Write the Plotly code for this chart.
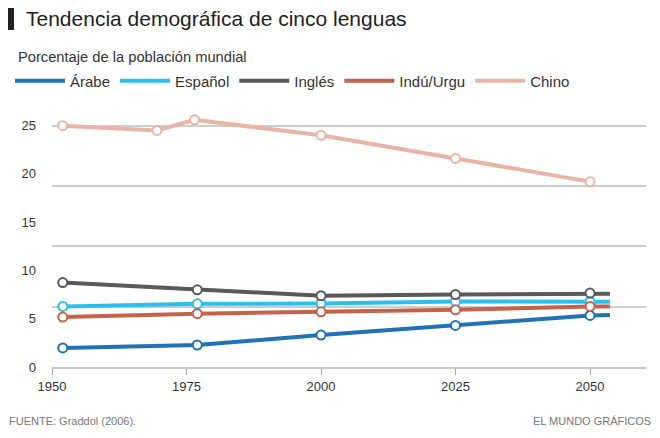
import plotly.graph_objects as go

# datos (porcentaje de la poblacion mundial)
years = [1952, 1977, 2000, 2025, 2050]
years_chino = [1952, 1969.5, 1976.5, 2000, 2025, 2050]
end_year = 2053.7  # las lineas siguen un poco despues del ultimo punto

arabe = [1.97, 2.28, 3.31, 4.31, 5.34]
espanol = [6.27, 6.55, 6.58, 6.79, 6.76]
ingles = [8.75, 8.0, 7.38, 7.51, 7.66]
indu = [5.17, 5.52, 5.72, 5.93, 6.27]
chino = [25.0, 24.5, 25.6, 24.0, 21.6, 19.2]

arabe_end = 5.38
espanol_end = 6.76
ingles_end = 7.6
indu_end = 6.27

x_ticks = [1950, 1975, 2000, 2025, 2050]
y_ticks = [0, 5, 10, 15, 20, 25]

W, H = 660, 438
L, R, T, B = 52, 14, 116, 71
FONT = "Liberation Sans, Arial, sans-serif"


def px(x, y):
    # pixel de la pagina -> coordenadas paper
    return (x - L) / (W - L - R), (H - B - y) / (H - T - B)


series = [
    ("Árabe", "#1f72b3", years, arabe, arabe_end),
    ("Español", "#2bbff0", years, espanol, espanol_end),
    ("Inglés", "#595959", years, ingles, ingles_end),
    ("Indú/Urgu", "#c6624b", years, indu, indu_end),
    ("Chino", "#e9b4a4", years_chino, chino, None),
]

fig = go.Figure()
for name, color, xs, ys, end in series:
    lx = list(xs) + ([end_year] if end is not None else [])
    ly = list(ys) + ([end] if end is not None else [])
    fig.add_trace(go.Scatter(x=lx, y=ly, mode="lines", name=name,
                             line=dict(color=color, width=4), hoverinfo="skip"))
# los marcadores van en el eje y2 (mismo rango), que tambien pinta la reticula
for name, color, xs, ys, end in series:
    fig.add_trace(go.Scatter(x=xs, y=ys, mode="markers", showlegend=False, yaxis="y2",
                             marker=dict(size=9, color="white", line=dict(color=color, width=2)),
                             cliponaxis=False, name=name))

x0, y0 = px(8, 8)
x1, y1 = px(14, 30)
sx, sy = px(16, 57)
fx, fy = px(7, 421)
gx, gy = px(653, 421)

fig.update_layout(
    width=W, height=H,
    margin=dict(l=L, r=R, t=T, b=B),
    paper_bgcolor="white", plot_bgcolor="white",
    font=dict(family=FONT, size=13, color="#333"),
    title=dict(text="Tendencia demográfica de cinco lenguas", x=26 / W, xanchor="left",
               y=1 - 19 / H, yanchor="middle", font=dict(size=21, color="#222")),
    showlegend=True,
    legend=dict(orientation="h", xref="container", yref="container",
                x=10 / W, y=1 - 81 / H, xanchor="left", yanchor="middle",
                font=dict(size=15, color="#333"), bgcolor="rgba(0,0,0,0)",
                itemwidth=50, tracegroupgap=0),
    xaxis=dict(range=[1950, 2060.4], tickvals=x_ticks, showgrid=False, zeroline=False,
               showline=True, linecolor="#c8c8c8", linewidth=2, automargin=False,
               ticks="outside", ticklen=6, tickcolor="#aaa", tickwidth=1,
               tickfont=dict(size=13, color="#333")),
    yaxis=dict(range=[0, 26], tickvals=y_ticks, showgrid=False, zeroline=False,
               ticks="", ticklabelstandoff=15, automargin=False,
               tickfont=dict(size=13, color="#333")),
    yaxis2=dict(range=[0, 26], overlaying="y", side="left", tick0=0, dtick=6.25,
                showgrid=True, gridcolor="#cdcdcd", gridwidth=2, zeroline=False,
                showticklabels=False, ticks="", automargin=False),
    shapes=[dict(type="rect", xref="paper", yref="paper", x0=x0, x1=x1, y0=y0, y1=y1,
                 fillcolor="#222", line=dict(width=0))],
    annotations=[
        dict(text="Porcentaje de la población mundial", xref="paper", yref="paper",
             x=sx, y=sy, xanchor="left", yanchor="middle", showarrow=False,
             font=dict(size=14.7, color="#333")),
        dict(text="FUENTE: Graddol (2006).", xref="paper", yref="paper",
             x=fx, y=fy, xanchor="left", yanchor="middle", showarrow=False,
             font=dict(size=11, color="#777")),
        dict(text="EL MUNDO GRÁFICOS", xref="paper", yref="paper",
             x=gx, y=gy, xanchor="right", yanchor="middle", showarrow=False,
             font=dict(size=11, color="#777")),
    ],
)

fig.write_html("out.html", config={"displayModeBar": False},
               post_script="document.body.style.margin = '0px';")
